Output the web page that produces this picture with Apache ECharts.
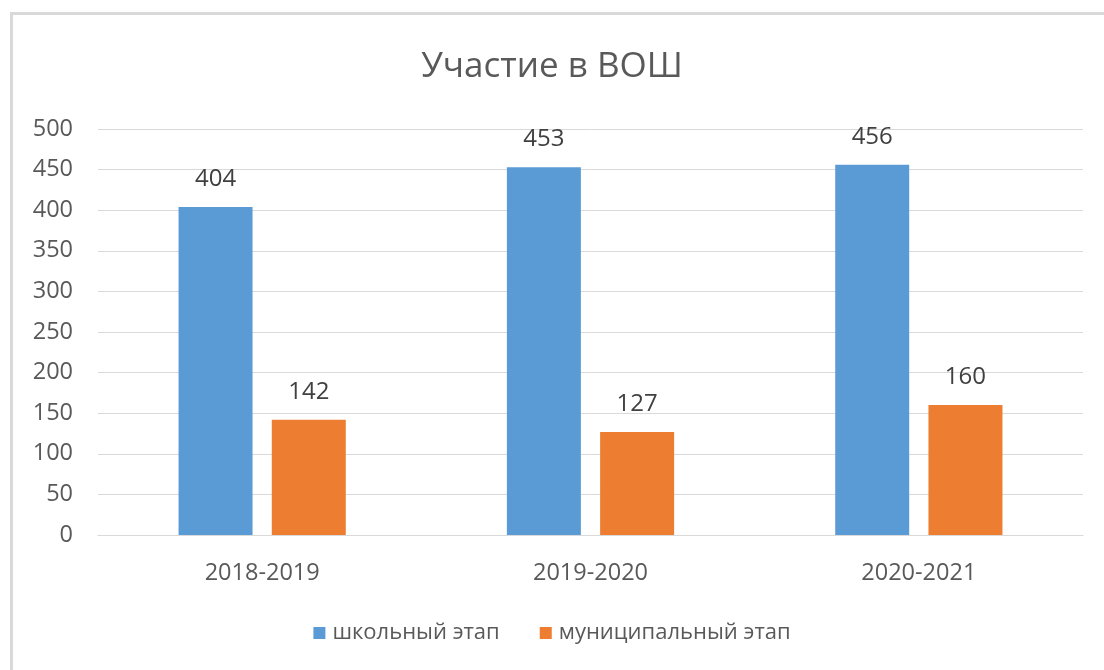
<!DOCTYPE html>
<html><head><meta charset="utf-8">
<script src="https://cdn.jsdelivr.net/npm/echarts@6/dist/echarts.min.js"></script>
<style>
html,body{margin:0;padding:0;background:#fff;}
#frame{position:absolute;left:10px;top:12px;width:1094px;height:658px;border-top:3px solid #d9d9d9;border-left:3px solid #d9d9d9;box-sizing:border-box;}
#c{position:absolute;left:0;top:0;width:1104px;height:670px;}
</style></head>
<body>
<div id="frame"></div>
<div id="c"></div>
<script>
const categories = ['2018-2019', '2019-2020', '2020-2021'];
const schoolStage = [404, 453, 456];
const municipalStage = [142, 127, 160];
const seriesNames = ['школьный этап', 'муниципальный этап'];
const titleText = 'Участие в ВОШ';

const font = '"Open Sans", "Noto Sans", sans-serif';
const chart = echarts.init(document.getElementById('c'), null, {renderer: 'canvas'});
chart.setOption({
  animation: false,
  title: {text: titleText, left: 'center', top: 45, textStyle: {fontFamily: font, fontSize: 35, fontWeight: 'normal', color: '#595959'}},
  grid: {left: 98, right: 21, top: 129, bottom: 135, containLabel: false},
  legend: {bottom: 21, left: 'center', itemWidth: 12, itemHeight: 12, itemGap: 40, icon: 'rect',
    textStyle: {fontFamily: font, fontSize: 22, color: '#595959', padding: [0, 0, 0, 2]}, data: seriesNames},
  xAxis: {type: 'category', data: categories,
    axisLine: {lineStyle: {color: '#d9d9d9', width: 1}}, axisTick: {show: false},
    axisLabel: {fontFamily: font, fontSize: 23.5, color: '#595959', margin: 26}},
  yAxis: {type: 'value', min: 0, max: 500, interval: 50,
    axisLine: {show: false}, axisTick: {show: false},
    splitLine: {lineStyle: {color: '#d9d9d9', width: 1}},
    axisLabel: {fontFamily: font, fontSize: 23.5, color: '#595959', margin: 25}},
  series: [
    {name: seriesNames[0], type: 'bar', data: schoolStage, barWidth: 74, barGap: '26%',
     itemStyle: {color: '#5b9bd5'},
     label: {show: true, position: 'top', distance: 16, fontFamily: font, fontSize: 24, color: '#404040'}},
    {name: seriesNames[1], type: 'bar', data: municipalStage, barWidth: 74,
     itemStyle: {color: '#ed7d31'},
     label: {show: true, position: 'top', distance: 16, fontFamily: font, fontSize: 24, color: '#404040'}}
  ]
});
</script>
</body></html>
